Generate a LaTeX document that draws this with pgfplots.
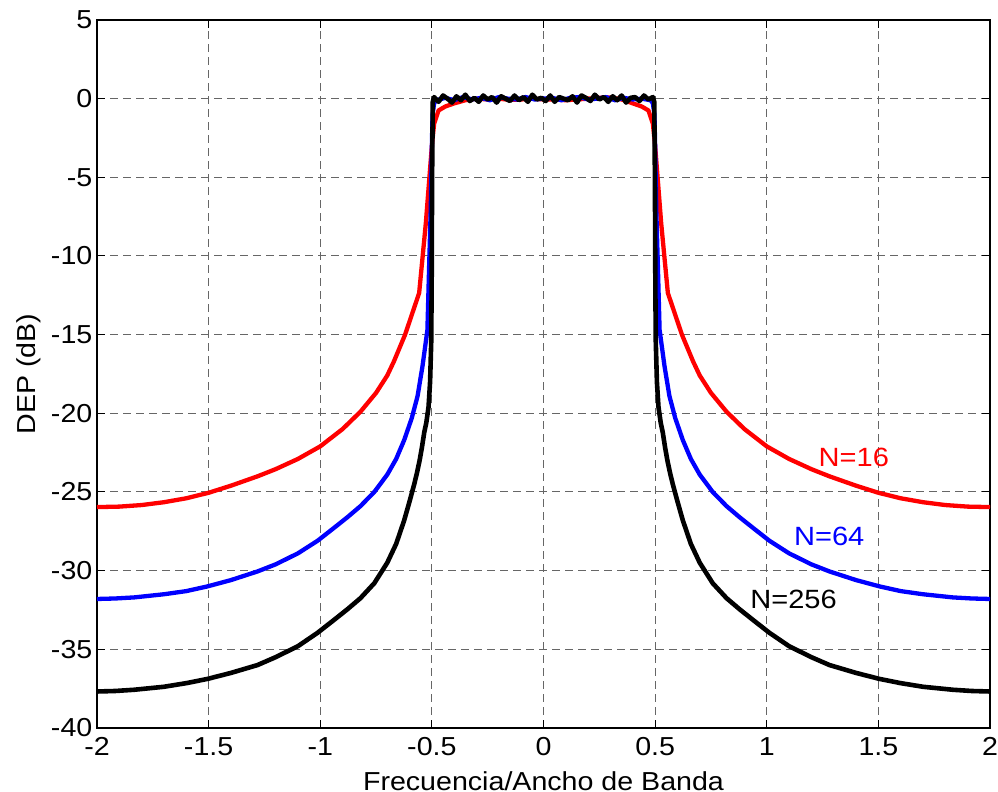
\documentclass[border=0pt]{standalone}
\usepackage{fontspec}
\setmainfont{Liberation Sans}[FakeStretch=1.1]
\usepackage{pgfplots}
\pgfplotsset{compat=1.18}
\definecolor{gridgray}{rgb}{0.40,0.40,0.40}
\begin{document}
\begin{tikzpicture}
\begin{axis}[name=ax,
  scale only axis, width=446.5pt, height=354pt,
  xmin=-2, xmax=2, ymin=-40, ymax=5,
  xtick={-2,-1.5,-1,-0.5,0,0.5,1,1.5,2},
  xticklabels={-2,-1.5,-1,-0.5,0,0.5,1,1.5,2},
  ytick={-40,-35,-30,-25,-20,-15,-10,-5,0,5},
  yticklabels={-40,-35,-30,-25,-20,-15,-10,-5,0,5},
  grid=major,
  major grid style={gridgray, line width=0.5pt, dash pattern=on 4pt off 2.5pt},
  tick align=inside, major tick length=4pt,
  tick style={black, line width=0.5pt},
  axis line style={black, line width=0.6pt},
  tick label style={font=\fontsize{13}{15}\selectfont},
  xticklabel style={yshift=-1.2pt},
  yticklabel style={xshift=1.2pt},
  label style={font=\fontsize{13}{15}\selectfont},
  xlabel={Frecuencia/Ancho de Banda},
  xlabel style={at={(axis description cs:0.5,-0.0876)}, anchor=base},
  ylabel={DEP (dB)},
  ylabel style={at={(axis description cs:-0.0694,0.5)}, anchor=base},
  clip=true,
]
% N=16
\addplot[red, line width=2.15pt, line join=round] coordinates {
(-2.00,-25.96) (-1.90,-25.93) (-1.80,-25.83) (-1.70,-25.65) (-1.60,-25.4) (-1.50,-25.05)
(-1.40,-24.6) (-1.28,-24.0) (-1.20,-23.55) (-1.10,-22.9) (-1.00,-22.1) (-0.90,-21.0)
(-0.82,-19.9) (-0.75,-18.7) (-0.70,-17.6) (-0.67,-16.7) (-0.62,-15.0) (-0.557,-12.35)
(-0.527,-7.9) (-0.50,-3.0) (-0.49,-1.6) (-0.47,-0.75) (-0.44,-0.5) (-0.40,-0.3)
(-0.35,-0.1) (-0.30,0.0) (-0.25,-0.05) (-0.20,0.0) (-0.15,-0.08) (-0.10,-0.05)
(-0.05,0.0) (0.00,-0.05) (0.05,-0.05) (0.10,-0.10) (0.15,-0.05) (0.20,0.0)
(0.25,0.05) (0.30,0.08) (0.35,-0.05) (0.40,-0.3) (0.44,-0.5) (0.47,-0.75)
(0.49,-1.6) (0.50,-3.0) (0.527,-7.9) (0.557,-12.35) (0.62,-15.0) (0.67,-16.7)
(0.70,-17.6) (0.75,-18.7) (0.82,-19.9) (0.90,-21.0) (1.00,-22.1) (1.10,-22.9)
(1.20,-23.55) (1.28,-24.0) (1.40,-24.6) (1.50,-25.05) (1.60,-25.4) (1.70,-25.65)
(1.80,-25.83) (1.90,-25.93) (2.00,-25.96)
};
% N=64
\addplot[blue, line width=2.15pt, line join=round] coordinates {
(-2.00,-31.8) (-1.92,-31.77) (-1.833,-31.7) (-1.70,-31.5) (-1.60,-31.3) (-1.505,-31.0)
(-1.40,-30.6) (-1.281,-30.05) (-1.20,-29.6) (-1.10,-28.9) (-1.012,-28.1) (-0.94,-27.3)
(-0.878,-26.6) (-0.82,-25.9) (-0.758,-25.0) (-0.70,-23.9) (-0.66,-22.9) (-0.624,-21.7)
(-0.59,-20.3) (-0.564,-18.9) (-0.542,-17.0) (-0.52,-14.7) (-0.512,-10.5) (-0.505,-7.0)
(-0.50,-3.0) (-0.497,-1.0) (-0.49,-0.3)
(-0.48,-0.1) (-0.44,0.05) (-0.40,-0.1) (-0.36,0.1) (-0.32,-0.05) (-0.28,0.05)
(-0.24,-0.1) (-0.20,0.1) (-0.16,0.0) (-0.12,-0.05) (-0.08,0.1) (-0.04,-0.05)
(0.00,0.0) (0.04,0.05) (0.08,-0.1) (0.12,0.05) (0.16,0.1) (0.20,-0.05)
(0.24,0.0) (0.28,0.1) (0.32,-0.1) (0.36,0.05) (0.40,-0.05) (0.44,0.0) (0.48,-0.1)
(0.49,-0.3) (0.497,-1.0) (0.50,-3.0) (0.505,-7.0) (0.512,-10.5) (0.52,-14.7)
(0.542,-17.0) (0.564,-18.9) (0.59,-20.3) (0.624,-21.7) (0.66,-22.9) (0.70,-23.9)
(0.758,-25.0) (0.82,-25.9) (0.878,-26.6) (0.94,-27.3) (1.012,-28.1) (1.10,-28.9)
(1.20,-29.6) (1.281,-30.05) (1.40,-30.6) (1.505,-31.0) (1.60,-31.3) (1.70,-31.5)
(1.833,-31.7) (1.92,-31.77) (2.00,-31.8)
};
% N=256
\addplot[black, line width=2.3pt, line join=round] coordinates {
(-2.00,-37.68) (-1.92,-37.65) (-1.833,-37.57) (-1.70,-37.38) (-1.60,-37.15) (-1.505,-36.88)
(-1.40,-36.5) (-1.281,-36.0) (-1.20,-35.5) (-1.10,-34.8) (-1.012,-33.95) (-0.94,-33.15)
(-0.878,-32.45) (-0.82,-31.75) (-0.758,-30.8) (-0.70,-29.5) (-0.66,-28.3) (-0.624,-26.8)
(-0.60,-25.6) (-0.579,-24.5) (-0.567,-23.8) (-0.555,-23.0) (-0.545,-22.2) (-0.534,-21.2)
(-0.525,-20.6) (-0.515,-19.6) (-0.508,-18.0) (-0.503,-15.5) (-0.501,-12.0) (-0.499,-5.0)
(-0.496,-0.2)
(-0.49,0.1) (-0.47,-0.2) (-0.45,0.2) (-0.43,0.0) (-0.41,-0.25) (-0.39,0.15) (-0.37,-0.1)
(-0.35,0.25) (-0.33,-0.15) (-0.31,0.05) (-0.29,-0.2) (-0.27,0.2) (-0.25,-0.05) (-0.23,0.1)
(-0.21,-0.25) (-0.19,0.15) (-0.17,0.0) (-0.15,-0.15) (-0.13,0.2) (-0.11,-0.1) (-0.09,0.1)
(-0.07,-0.2) (-0.05,0.25) (-0.03,-0.05) (-0.01,0.05) (0.01,-0.15) (0.03,0.2) (0.05,-0.2)
(0.07,0.1) (0.09,0.0) (0.11,-0.1) (0.13,0.15) (0.15,-0.25) (0.17,0.2) (0.19,0.05)
(0.21,-0.15) (0.23,0.25) (0.25,-0.05) (0.27,0.1) (0.29,-0.2) (0.31,0.15) (0.33,-0.1)
(0.35,0.2) (0.37,-0.25) (0.39,0.05) (0.41,0.1) (0.43,-0.15) (0.45,0.2) (0.47,-0.05)
(0.49,0.1)
(0.496,-0.2) (0.499,-5.0) (0.501,-12.0) (0.503,-15.5) (0.508,-18.0) (0.515,-19.6)
(0.525,-20.6) (0.534,-21.2) (0.545,-22.2) (0.555,-23.0) (0.567,-23.8) (0.579,-24.5)
(0.60,-25.6) (0.624,-26.8) (0.66,-28.3) (0.70,-29.5) (0.758,-30.8) (0.82,-31.75)
(0.878,-32.45) (0.94,-33.15) (1.012,-33.95) (1.10,-34.8) (1.20,-35.5) (1.281,-36.0)
(1.40,-36.5) (1.505,-36.88) (1.60,-37.15) (1.70,-37.38) (1.833,-37.57) (1.92,-37.65)
(2.00,-37.68)
};
\node[red, font=\fontsize{13.2}{15}\selectfont] at (axis cs:1.39,-22.8) {N=16};
\node[blue, font=\fontsize{13.2}{15}\selectfont] at (axis cs:1.28,-27.85) {N=64};
\node[black, font=\fontsize{13.2}{15}\selectfont] at (axis cs:1.12,-31.85) {N=256};
\end{axis}
\pgfresetboundingbox
\path ([shift={(-48.5pt,-32pt)}]ax.south west) rectangle ([shift={(4pt,10pt)}]ax.north east);
\end{tikzpicture}
\end{document}
